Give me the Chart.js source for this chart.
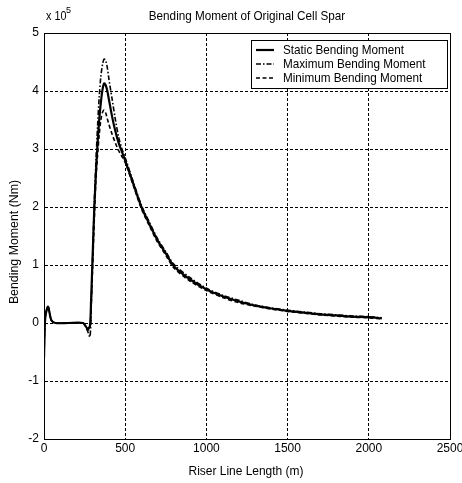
<!DOCTYPE html>
<html><head><meta charset="utf-8">
<script src="https://cdn.jsdelivr.net/npm/chart.js@4.4.1/dist/chart.umd.min.js"></script>
<style>html,body{margin:0;padding:0;background:#fff}#wrap{width:462px;height:483px}</style>
</head><body><div id="wrap"><canvas id="c" width="462" height="483"></canvas></div>
<script>
// Riser line length (m)
const lengths = [0, 8, 25, 45, 70, 150, 240, 255, 270, 283, 290, 300, 310, 320, 330, 340, 350, 360, 370, 380, 390, 400, 420, 440, 460, 480, 500, 550, 600, 650, 700, 750, 800, 900, 1000, 1100, 1200, 1300, 1400, 1500, 1600, 1700, 1800, 1900, 2000, 2080];
// Bending moment (x 10^5 Nm)
const staticBM = [-0.6, 0.1, 0.28, 0.05, 0, 0, 0, -0.05, -0.1, -0.05, 0.4, 1.2, 2.0, 2.6, 3.1, 3.5, 3.8, 4.02, 4.13, 4.1, 4.0, 3.85, 3.55, 3.3, 3.1, 2.95, 2.8, 2.4, 2.0, 1.7, 1.42, 1.2, 0.98, 0.75, 0.58, 0.46, 0.37, 0.3, 0.25, 0.21, 0.18, 0.15, 0.13, 0.11, 0.1, 0.08];
const maxBM = [-0.6, 0.1, 0.28, 0.05, 0, 0, 0, -0.05, -0.15, -0.24, 0.2, 1.2, 2.1, 2.8, 3.4, 3.9, 4.25, 4.45, 4.55, 4.52, 4.4, 4.2, 3.85, 3.5, 3.2, 3.0, 2.85, 2.43, 2.03, 1.73, 1.45, 1.23, 1.01, 0.78, 0.6, 0.48, 0.39, 0.31, 0.26, 0.22, 0.19, 0.16, 0.14, 0.12, 0.11, 0.09];
const minBM = [-0.6, 0.1, 0.28, 0.05, 0, 0, 0, -0.05, -0.12, -0.1, 0.3, 1.0, 1.8, 2.5, 2.9, 3.25, 3.5, 3.63, 3.67, 3.62, 3.52, 3.42, 3.25, 3.1, 2.97, 2.87, 2.77, 2.37, 1.97, 1.67, 1.39, 1.17, 0.95, 0.72, 0.56, 0.44, 0.35, 0.29, 0.24, 0.2, 0.17, 0.14, 0.12, 0.1, 0.09, 0.07];
const xTicks = [0, 500, 1000, 1500, 2000, 2500];
const yTicks = [-2, -1, 0, 1, 2, 3, 4, 5];
const seriesNames = ['Static Bending Moment', 'Maximum Bending Moment', 'Minimum Bending Moment'];
const titleText = 'Bending Moment of Original Cell Spar';
const xTitle = 'Riser Line Length (m)';
const yTitle = 'Bending Moment (Nm)';

const FONT = "'Liberation Sans Narrow', 'Liberation Sans', Arial, sans-serif";
const pts = arr => lengths.map((x, i) => ({x: x, y: arr[i]}));

function narrowText(ctx, txt, x, y, sx) {
  ctx.save(); ctx.translate(x, y); ctx.scale(sx, 1); ctx.fillText(txt, 0, 0); ctx.restore();
}

const decor = {
  id: 'decor',
  afterDraw(chart) {
    const ctx = chart.ctx, a = chart.chartArea;
    ctx.save();
    ctx.strokeStyle = '#000'; ctx.lineWidth = 1; ctx.setLineDash([]);
    ctx.strokeRect(Math.round(a.left) + 0.5, Math.round(a.top) + 0.5, Math.round(a.right - a.left), Math.round(a.bottom - a.top));
    ctx.fillStyle = '#000';
    ctx.font = "13px " + FONT;
    ctx.textAlign = 'center'; ctx.textBaseline = 'middle';
    narrowText(ctx, titleText, 247, 16, 0.9);
    narrowText(ctx, xTitle, 246, 471, 0.92);
    ctx.save(); ctx.translate(14, 242); ctx.rotate(-Math.PI / 2);
    narrowText(ctx, yTitle, 0, 0, 0.95); ctx.restore();
    // exponent
    ctx.textAlign = 'left';
    ctx.font = "12px " + FONT;
    narrowText(ctx, 'x 10', 46, 17, 0.9);
    ctx.font = "9px " + FONT;
    ctx.fillText('5', 66, 11);
    // legend
    const lx = 251, ly = 40, lw = 196, lh = 48;
    ctx.fillStyle = '#fff';
    ctx.fillRect(lx, ly, lw, lh);
    ctx.strokeStyle = '#000'; ctx.lineWidth = 1;
    ctx.strokeRect(lx + 0.5, ly + 0.5, lw, lh);
    chart.data.datasets.forEach((ds, i) => {
      const y = ly + 10 + i * 14;
      ctx.strokeStyle = '#000'; ctx.lineWidth = ds.borderWidth;
      ctx.setLineDash(ds.borderDash || []);
      ctx.beginPath(); ctx.moveTo(lx + 5, y); ctx.lineTo(lx + 23, y); ctx.stroke();
      ctx.setLineDash([]);
      ctx.fillStyle = '#000';
      ctx.font = "13px " + FONT;
      ctx.textAlign = 'left'; ctx.textBaseline = 'middle';
      narrowText(ctx, ds.label, lx + 32, y + 0.5, 0.9);
    });
    ctx.restore();
  }
};

new Chart(document.getElementById('c'), {
  type: 'line',
  data: {
    datasets: [
      {label: seriesNames[0], data: pts(staticBM), borderColor: '#000', borderWidth: 2.2, pointRadius: 0, tension: 0.3, fill: false},
      {label: seriesNames[1], data: pts(maxBM), borderColor: '#000', borderWidth: 1.6, borderDash: [5, 2, 1.5, 2], pointRadius: 0, tension: 0.3, fill: false},
      {label: seriesNames[2], data: pts(minBM), borderColor: '#000', borderWidth: 1.6, borderDash: [4, 2.5], pointRadius: 0, tension: 0.3, fill: false}
    ]
  },
  options: {
    responsive: false, animation: false, maintainAspectRatio: false,
    layout: {padding: {left: 0, right: 0, top: 33, bottom: 0}},
    plugins: {legend: {display: false}, title: {display: false}, tooltip: {enabled: false}},
    scales: {
      x: {
        type: 'linear', min: 0, max: 2500,
        afterFit: s => { s.height = 44; s.paddingRight = 12; },
        afterBuildTicks: s => { s.ticks = xTicks.map(v => ({value: v})); },
        ticks: {color: '#000', font: {family: FONT, size: 12}, padding: 2, maxRotation: 0, autoSkip: false, callback: v => String(v)},
        grid: {color: '#000', lineWidth: 1, drawTicks: false},
        border: {display: true, color: '#000', width: 1, dash: [3, 2]}
      },
      y: {
        type: 'linear', min: -2, max: 5,
        afterFit: s => { s.width = 44; },
        afterBuildTicks: s => { s.ticks = yTicks.map(v => ({value: v})); },
        ticks: {color: '#000', font: {family: FONT, size: 12}, padding: 5, autoSkip: false, callback: v => String(v)},
        grid: {color: '#000', lineWidth: 1, drawTicks: false},
        border: {display: true, color: '#000', width: 1, dash: [3, 2]}
      }
    }
  },
  plugins: [decor]
});
</script></body></html>
